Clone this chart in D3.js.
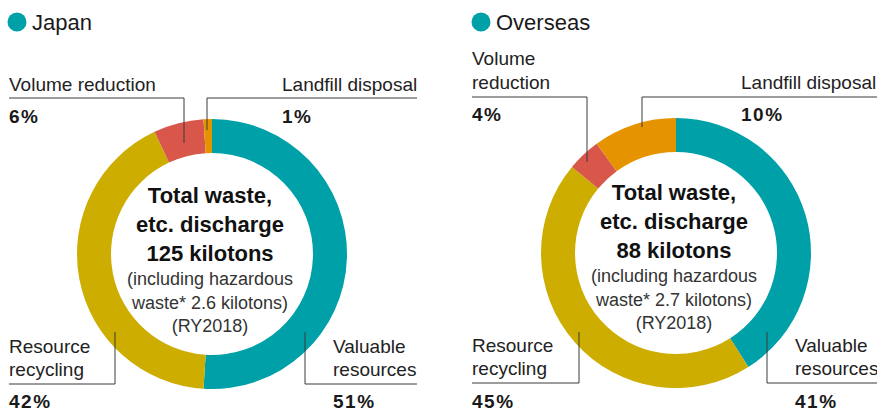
<!DOCTYPE html>
<html>
<head>
<meta charset="utf-8">
<script src="https://cdn.jsdelivr.net/npm/d3@7"></script>
<style>
  html, body { margin: 0; padding: 0; background: #fff; }
  svg { display: block; font-family: "Liberation Sans", Arial, Helvetica, sans-serif; }
</style>
</head>
<body>
<svg id="chart" width="877" height="412"></svg>
<script>
// Waste discharge breakdown by treatment method (shares in %)
const categories = ["Valuable resources", "Resource recycling", "Volume reduction", "Landfill disposal"];
const regions = ["Japan", "Overseas"];
const japanShares = [51, 42, 6, 1];
const overseasShares = [41, 45, 4, 10];
const totalKilotons = [125, 88];
const hazardousKilotons = [2.6, 2.7];
const reportYear = "RY2018";

const colors = d3.scaleOrdinal()
  .domain(categories)
  .range(["#00a0a8", "#ccad00", "#d9574a", "#e59400"]);

const svg = d3.select("#chart");

// Layout of each donut and its callouts
const layouts = [
  {
    cx: 212, cy: 254, legendX: 17, textShift: 0,
    callouts: {
      "Volume reduction":   { lines: ["Volume reduction"], tx: 9, ty: [91], py: 123,
                              path: [[9, 98], [184, 98], [184, 143]] },
      "Landfill disposal":  { lines: ["Landfill disposal"], tx: 282, ty: [91], py: 123,
                              path: [[417, 98], [207, 98], [207, 130]] },
      "Resource recycling": { lines: ["Resource", "recycling"], tx: 9, ty: [353, 376], py: 408,
                              path: [[9, 384], [115, 384], [115, 332]] },
      "Valuable resources": { lines: ["Valuable", "resources"], tx: 333, ty: [353, 376], py: 408,
                              path: [[305, 332], [305, 384], [417, 384]] }
    }
  },
  {
    cx: 676, cy: 253, legendX: 481, textShift: -3,
    callouts: {
      "Volume reduction":   { lines: ["Volume", "reduction"], tx: 472, ty: [65, 89], py: 121,
                              path: [[472, 97], [587, 97], [587, 162]] },
      "Landfill disposal":  { lines: ["Landfill disposal"], tx: 741, ty: [89], py: 121,
                              path: [[877, 97], [642, 97], [642, 127]] },
      "Resource recycling": { lines: ["Resource", "recycling"], tx: 472, ty: [352, 375], py: 408,
                              path: [[472, 383], [579, 383], [579, 332]] },
      "Valuable resources": { lines: ["Valuable", "resources"], tx: 795, ty: [352, 375], py: 408,
                              path: [[767, 332], [767, 383], [877, 383]] }
    }
  }
];

const shareSets = [japanShares, overseasShares];

const pie = d3.pie().sort(null).value(d => d.value);
const arc = d3.arc().innerRadius(101).outerRadius(135);

regions.forEach((region, i) => {
  const L = layouts[i];
  const data = categories.map((c, k) => ({ category: c, value: shareSets[i][k] }));

  // Legend marker and region title
  svg.append("circle")
    .attr("cx", L.legendX).attr("cy", 22).attr("r", 9.5)
    .attr("fill", colors(categories[0]));
  svg.append("text")
    .attr("x", L.legendX + 15).attr("y", 30)
    .attr("font-size", 22).attr("fill", "#1a1a1a")
    .text(region);

  // Donut ring
  const g = svg.append("g").attr("transform", `translate(${L.cx},${L.cy})`);
  g.selectAll("path")
    .data(pie(data))
    .join("path")
    .attr("d", arc)
    .attr("fill", d => colors(d.data.category));

  // Center summary text
  const centerLines = [
    { t: "Total waste,", y: 203, bold: true },
    { t: "etc. discharge", y: 232, bold: true },
    { t: `${totalKilotons[i]} kilotons`, y: 261, bold: true },
    { t: "(including hazardous", y: 285, bold: false },
    { t: `waste* ${hazardousKilotons[i]} kilotons)`, y: 309, bold: false },
    { t: `(${reportYear})`, y: 332, bold: false }
  ];
  svg.append("g").selectAll("text")
    .data(centerLines)
    .join("text")
    .attr("x", L.cx - 2)
    .attr("y", d => d.y + L.textShift)
    .attr("text-anchor", "middle")
    .attr("font-size", d => d.bold ? 22 : 18)
    .attr("font-weight", d => d.bold ? "bold" : "normal")
    .attr("fill", d => d.bold ? "#111" : "#333")
    .text(d => d.t);

  // Callout labels, percentages and leader lines
  const line = d3.line();
  data.forEach(d => {
    const c = L.callouts[d.category];
    svg.append("path")
      .attr("d", line(c.path))
      .attr("fill", "none")
      .attr("stroke", "#3a3a3a")
      .attr("stroke-width", 1);
    c.lines.forEach((ln, j) => {
      svg.append("text")
        .attr("x", c.tx).attr("y", c.ty[j])
        .attr("font-size", 19).attr("fill", "#222")
        .text(ln);
    });
    svg.append("text")
      .attr("x", c.tx).attr("y", c.py)
      .attr("font-size", 19).attr("font-weight", "bold")
      .attr("letter-spacing", 1.5)
      .attr("fill", "#1a1a1a")
      .text(`${d.value}%`);
  });
});
</script>
</body>
</html>
